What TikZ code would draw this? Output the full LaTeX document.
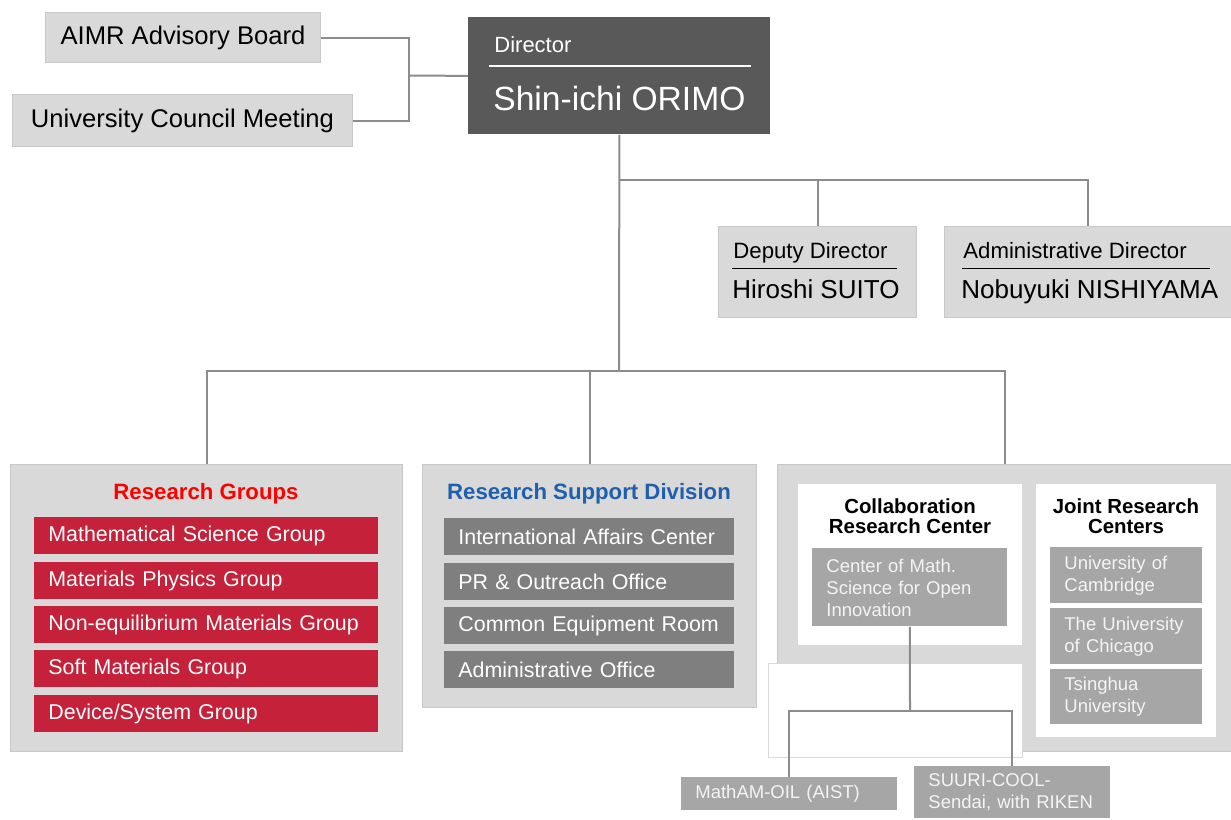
\documentclass[tikz,border=0pt]{standalone}
\usepackage{fontspec}
\setmainfont{Liberation Sans}
\usetikzlibrary{positioning}
\definecolor{boardgray}{HTML}{D9D9D9}
\definecolor{edgegray}{HTML}{C8C8C8}
\definecolor{dirgray}{HTML}{595959}
\definecolor{linegray}{HTML}{8C8C8C}
\definecolor{groupred}{HTML}{C5213A}
\definecolor{titlered}{HTML}{FF0000}
\definecolor{titleblue}{HTML}{1F5FAD}
\definecolor{officegray}{HTML}{7F7F7F}
\definecolor{partnergray}{HTML}{A6A6A6}
\definecolor{paletext}{HTML}{F4F4F4}
\tikzstyle{board}=[rectangle,fill=boardgray,draw=edgegray,line width=0.5pt,anchor=north west,inner sep=0pt,font=\fontsize{12.8}{15}\selectfont]
\tikzstyle{whitepanel}=[rectangle,fill=white,anchor=north west,inner sep=0pt]
\tikzstyle{rgitem}=[rectangle,fill=groupred,text=white,anchor=north west,inner xsep=7pt,inner ysep=0pt,align=left,text width=158pt,minimum height=18.5pt,font=\fontsize{10.7}{13}\selectfont]
\tikzstyle{rsditem}=[rgitem,fill=officegray,text width=131pt]
\tikzstyle{partneritem}=[rectangle,fill=partnergray,text=paletext,anchor=north west,inner xsep=7pt,inner ysep=0pt,align=left,font=\fontsize{9.25}{11}\selectfont]
\tikzstyle{roletext}=[anchor=base west,inner sep=0pt,font=\fontsize{11.1}{13}\selectfont]
\tikzstyle{nametext}=[anchor=base west,inner sep=0pt,font=\fontsize{13}{15}\selectfont]
\tikzstyle{heading}=[anchor=base,inner sep=0pt,font=\bfseries\fontsize{11.1}{13}\selectfont]
\tikzstyle{unittitle}=[inner sep=0pt,align=center,font=\bfseries\fontsize{10.2}{10}\selectfont]
\tikzstyle{link}=[draw=linegray,line width=1pt]

\begin{document}
\begin{tikzpicture}[x=0.5pt,y=-0.5pt]
\useasboundingbox (0,0) rectangle (1231,819);
\node[board,minimum width=137.5pt,minimum height=25pt] (aimr) at (45,12) {AIMR Advisory Board};
\node[board,minimum width=170pt,minimum height=26pt] (council) at (12,94) {University Council Meeting};
\node[rectangle,fill=dirgray,anchor=north west,minimum width=151pt,minimum height=58.5pt] (director) at (468,17) {};
\node[roletext,text=white,font=\fontsize{11}{13}\selectfont] (dirrole) at (494,52) {Director};
\draw[white,line width=0.6pt] (489,66) -- (751,66);
\node[roletext,text=white,font=\fontsize{16.8}{20}\selectfont] (dirname) at (493,110) {Shin-ichi ORIMO};

\node[board,minimum width=99pt,minimum height=45.5pt] (deputy) at (718,226) {};
\node[roletext] (deputyrole) at (733,258) {Deputy Director};
\draw[black,line width=0.5pt] (732,268) -- (897,268);
\node[nametext] (deputyname) at (732,298) {Hiroshi SUITO};
\node[board,minimum width=143.5pt,minimum height=45.5pt] (admin) at (944,226) {};
\node[roletext] (adminrole) at (963,258) {Administrative Director};
\draw[black,line width=0.5pt] (962,268) -- (1210,268);
\node[nametext] (adminname) at (961,298) {Nobuyuki NISHIYAMA};

%\tikzstyle{etiquette}=[midway,fill=black!20]
\coordinate (boardjoin) at (409,75.5);
\coordinate (execjoin) at (619,180);
\coordinate (unitjoin) at (619,371);
\draw[link] (aimr.east) -| (boardjoin) |- (council.east);
\draw[link] (boardjoin) -- (director.west);
\draw[link] (director.south) -- (unitjoin);
\draw[link] (execjoin) -| (deputy.north);
\draw[link] (execjoin) -| (admin.north);

\node[board,minimum width=196pt,minimum height=143.5pt] (groups) at (10,464) {};
\node[heading,text=titlered] (groupstitle) at (206,499) {Research Groups};
\node[rgitem] (mathsci) at (34,517) {Mathematical Science Group};
\node[rgitem] (matphys) at (34,562) {Materials Physics Group};
\node[rgitem] (noneq) at (34,606) {Non-equilibrium Materials Group};
\node[rgitem] (softmat) at (34,650) {Soft Materials Group};
\node[rgitem] (device) at (34,695) {Device/System Group};

\node[board,minimum width=167pt,minimum height=121.5pt] (support) at (422,464) {};
\node[heading,text=titleblue] (supporttitle) at (589,499) {Research Support Division};
\node[rsditem] (intl) at (444,518) {International Affairs Center};
\node[rsditem] (outreach) at (444,563) {PR \& Outreach Office};
\node[rsditem] (equip) at (444,607) {Common Equipment Room};
\node[rsditem] (adminoffice) at (444,651) {Administrative Office};

\node[board,minimum width=227pt,minimum height=143.5pt] (collab) at (777,464) {};
\node[whitepanel,minimum width=112pt,minimum height=80.5pt] (crc) at (798,484) {};
\node[unittitle] (crctitle) at (910,516) {Collaboration\\Research Center};
\node[partneritem,text width=83.5pt,minimum height=39pt] (cmsoi) at (812,548) {Center of Math.\\Science for Open\\Innovation};
\node[whitepanel,minimum width=90pt,minimum height=126.5pt] (jrc) at (1036,484) {};
\node[unittitle] (jrctitle) at (1126,516) {Joint Research\\Centers};
\node[partneritem,text width=62pt,minimum height=28pt] (cambridge) at (1050,547) {University of\\Cambridge};
\node[partneritem,text width=62pt,minimum height=28pt] (chicago) at (1050,608) {The University\\of Chicago};
\node[partneritem,text width=62pt,minimum height=27.5pt] (tsinghua) at (1050,669) {Tsinghua\\University};
\node[whitepanel,draw=boardgray,line width=0.5pt,minimum width=127pt,minimum height=47pt] (gapcover) at (768,663) {};
\node[partneritem,text width=94pt,minimum height=16.5pt] (mathamoil) at (681,777) {MathAM-OIL (AIST)};
\node[partneritem,text width=84pt,minimum height=26pt] (suuri) at (914,766) {SUURI-COOL-\\Sendai, with RIKEN};

\coordinate (partnerjoin) at (910,711);
\draw[link] (unitjoin) -| (groups.north);
\draw[link] (unitjoin) -| (support.north);
\draw[link] (unitjoin) -| (collab.north);
\draw[link] (cmsoi.south) -- (partnerjoin);
\draw[link] (partnerjoin) -| (mathamoil.north);
\draw[link] (partnerjoin) -| (suuri.north);
\end{tikzpicture}
\end{document}
